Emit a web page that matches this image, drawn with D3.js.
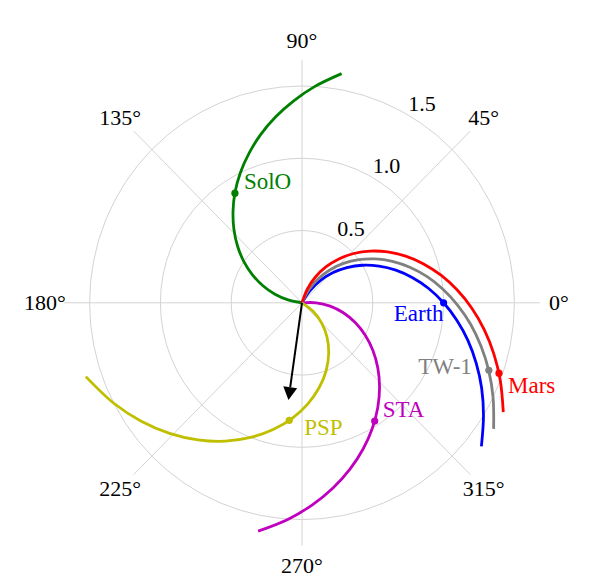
<!DOCTYPE html>
<html><head><meta charset="utf-8">
<script src="https://cdn.jsdelivr.net/npm/d3@7"></script>
<style>html,body{margin:0;padding:0;background:#fff;}</style>
</head><body>
<svg id="chart" width="600" height="583"></svg>
<script>
// ---- data ----
const gridRadii = [0.5, 1.0, 1.5];
const radialTickLabels = ["0.5", "1.0", "1.5"];
const gridAngles = [0, 45, 90, 135, 180, 225, 270, 315];
const angleTickLabels = ["0°", "45°", "90°", "135°", "180°", "225°", "270°", "315°"];
const gridMaxR = 1.68;
const radialLabelAngle = 60;

// spiral field lines: [longitude deg, r AU]
const earthLine = [[62.5,0],[56.3,0.1],[50,0.2],[43.8,0.3],[37.5,0.4],[31.3,0.5],[25,0.6],[18.8,0.7],[12.5,0.8],[6.3,0.9],[0,1.0],[-6.3,1.1],[-12.5,1.2],[-18.8,1.3],[-25,1.4],[-31.3,1.5],[-38.1,1.61]];
const tw1Line = [[68,0],[61.7,0.1],[55.5,0.2],[49.2,0.3],[43,0.4],[36.7,0.5],[30.4,0.6],[24.2,0.7],[17.9,0.8],[11.7,0.9],[5.4,1.0],[-0.9,1.1],[-7.1,1.2],[-13.4,1.3],[-19.6,1.4],[-25.9,1.5],[-32.8,1.61]];
const marsLine = [[75,0],[68.6,0.1],[62.2,0.2],[55.8,0.3],[49.4,0.4],[43,0.5],[36.6,0.6],[30.2,0.7],[23.8,0.8],[17.4,0.9],[11,1.0],[4.6,1.1],[-1.8,1.2],[-8.2,1.3],[-14.6,1.4],[-21,1.5],[-28,1.61]];
const soloLine = [[174.5,0],[168.6,0.1],[162.8,0.2],[156.9,0.3],[151,0.4],[145.2,0.5],[139.3,0.6],[133.4,0.7],[127.5,0.8],[121.7,0.9],[115.8,1.0],[109.9,1.1],[104.1,1.2],[98.2,1.3],[92.3,1.4],[86.5,1.5],[80,1.61]];
const staLine = [[6.8,0],[0.1,0.1],[-6.6,0.2],[-13.3,0.3],[-20,0.4],[-26.7,0.5],[-33.4,0.6],[-40.1,0.7],[-46.8,0.8],[-53.5,0.9],[-60.2,1.0],[-66.9,1.1],[-73.6,1.2],[-80.3,1.3],[-87,1.4],[-93.7,1.5],[-101.1,1.61]];
const pspLine = [[331,0],[322.8,0.1],[314.5,0.2],[306.3,0.3],[298.1,0.4],[289.9,0.5],[281.6,0.6],[273.4,0.7],[265.2,0.8],[256.9,0.9],[248.7,1.0],[240.5,1.1],[232.2,1.2],[224,1.3],[215.8,1.4],[207.6,1.5],[198.5,1.61]];

const bodyNames = ["SolO", "Earth", "TW-1", "Mars", "STA", "PSP"];
const bodyLon = [122, 0, -19.5, -19.3, -57.9, 263.7];
const bodyR = [0.894, 1.0, 1.40, 1.474, 0.966, 0.818];
const arrowLon = 261.9;
const arrowR = 0.68;

// ---- styles ----
const bodyColors = {"SolO":"#008000","Earth":"#0000ff","TW-1":"#808080","Mars":"#ff0000","STA":"#bf00bf","PSP":"#bfbf00"};
const bodyLines = {"SolO":soloLine,"Earth":earthLine,"TW-1":tw1Line,"Mars":marsLine,"STA":staLine,"PSP":pspLine};
// label placement relative to the dot: [dx, dy, anchor]
const labelPlace = {"SolO":[9,-4,"start"],"Earth":[0,18,"end"],"TW-1":[-17,4,"end"],"Mars":[9,20,"start"],"STA":[8,-4.5,"start"],"PSP":[15,15,"start"]};

const font = "'Liberation Serif','Times New Roman',serif";
const cx = 302, cy = 302.8;
const rx = d3.scaleLinear().domain([0, 1.5]).range([0, 212.4]);
const ry = d3.scaleLinear().domain([0, 1.5]).range([0, 216.8]);
const toRad = d3.scaleLinear().domain([0, 180]).range([0, Math.PI]);
function X(lon, r) { return cx + rx(r) * Math.cos(toRad(lon)); }
function Y(lon, r) { return cy - ry(r) * Math.sin(toRad(lon)); }

const svg = d3.select("#chart");
const grid = svg.append("g");
grid.selectAll("ellipse").data(gridRadii).join("ellipse")
  .attr("cx", cx).attr("cy", cy)
  .attr("rx", d => rx(d)).attr("ry", d => ry(d))
  .attr("fill", "none").attr("stroke", "#d3d3d3").attr("stroke-width", 1);
grid.selectAll("line").data(gridAngles).join("line")
  .attr("x1", cx).attr("y1", cy)
  .attr("x2", d => X(d, gridMaxR)).attr("y2", d => Y(d, gridMaxR))
  .attr("stroke", "#d3d3d3").attr("stroke-width", 1);

svg.append("g").selectAll("text").data(gridAngles).join("text")
  .attr("x", d => X(d, 1.815)).attr("y", d => Y(d, 1.815))
  .attr("text-anchor", "middle").attr("dominant-baseline", "central")
  .attr("font-family", font).attr("font-size", 22).attr("fill", "#000")
  .text((d, i) => angleTickLabels[i]);

svg.append("g").selectAll("text").data(gridRadii).join("text")
  .attr("x", d => X(radialLabelAngle, d) + 13.7).attr("y", d => Y(radialLabelAngle, d) - 12)
  .attr("text-anchor", "middle").attr("dominant-baseline", "central")
  .attr("font-family", font).attr("font-size", 22).attr("fill", "#000")
  .text((d, i) => radialTickLabels[i]);

const line = d3.line().x(d => X(d[0], d[1])).y(d => Y(d[0], d[1])).curve(d3.curveCatmullRom);
const curves = svg.append("g");
bodyNames.forEach(n => {
  curves.append("path").attr("d", line(bodyLines[n]))
    .attr("fill", "none").attr("stroke", bodyColors[n]).attr("stroke-width", 2.8);
});

// arrow
const ax = X(arrowLon, arrowR), ay = Y(arrowLon, arrowR);
const ang = Math.atan2(ay - cy, ax - cx);
const headL = 13, headW = 7;
const bx = ax - headL * Math.cos(ang), by = ay - headL * Math.sin(ang);
svg.append("line").attr("x1", cx).attr("y1", cy).attr("x2", bx).attr("y2", by)
  .attr("stroke", "#000").attr("stroke-width", 2);
svg.append("path").attr("d", `M${ax},${ay}L${bx + headW*Math.sin(ang)},${by - headW*Math.cos(ang)}L${bx - headW*Math.sin(ang)},${by + headW*Math.cos(ang)}Z`)
  .attr("fill", "#000");

// dots & labels
const pts = svg.append("g");
bodyNames.forEach((n, i) => {
  const x = X(bodyLon[i], bodyR[i]), y = Y(bodyLon[i], bodyR[i]);
  pts.append("circle").attr("cx", x).attr("cy", y).attr("r", 3.6).attr("fill", bodyColors[n]);
  const p = labelPlace[n];
  pts.append("text").attr("x", x + p[0]).attr("y", y + p[1]).attr("text-anchor", p[2])
    .attr("font-family", font).attr("font-size", 23).attr("fill", bodyColors[n]).text(n);
});
</script>
</body></html>
